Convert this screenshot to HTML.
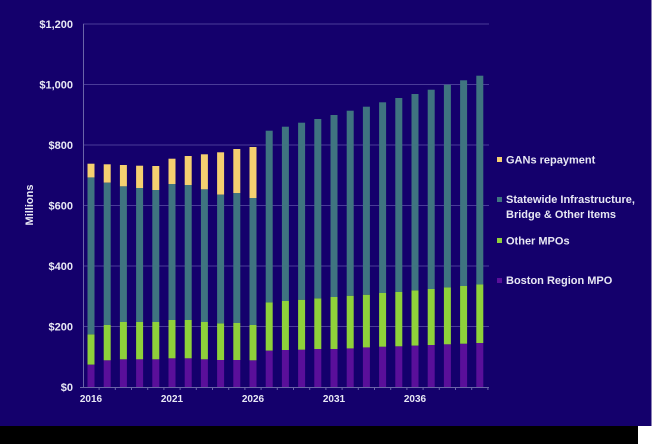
<!DOCTYPE html>
<html><head><meta charset="utf-8"><style>
html,body{margin:0;padding:0;background:#fff;}
svg{display:block;}
text{font-family:"Liberation Sans",sans-serif;font-weight:bold;fill:#e8e8f4;}
</style></head><body>
<svg width="655" height="444" viewBox="0 0 655 444" xmlns="http://www.w3.org/2000/svg">
<rect x="0" y="0" width="655" height="444" fill="#ffffff"/>
<rect x="0" y="0" width="651.5" height="426" fill="#14006c"/>
<rect x="0" y="426" width="638" height="18" fill="#000000"/>
<g stroke="#4a3c98" stroke-width="1">
<line x1="83" y1="24" x2="489" y2="24"/>
<line x1="83" y1="84.5" x2="489" y2="84.5"/>
<line x1="83" y1="145" x2="489" y2="145"/>
<line x1="83" y1="205.5" x2="489" y2="205.5"/>
<line x1="83" y1="266" x2="489" y2="266"/>
<line x1="83" y1="326.5" x2="489" y2="326.5"/>
</g>
<g stroke="#6a64a8" stroke-width="1">
<line x1="83.5" y1="24" x2="83.5" y2="387"/>
<line x1="80" y1="387.5" x2="489" y2="387.5"/>
</g>
<g id="bars"></g>
<g font-size="11" text-anchor="end">
<text x="73" y="28">$1,200</text>
<text x="73" y="88.5">$1,000</text>
<text x="73" y="149">$800</text>
<text x="73" y="209.5">$600</text>
<text x="73" y="270">$400</text>
<text x="73" y="330.5">$200</text>
<text x="73" y="391">$0</text>
</g>
<text x="0" y="0" font-size="11" text-anchor="middle" transform="translate(33,205) rotate(-90)">Millions</text>
<g font-size="10" text-anchor="middle">
<text x="91" y="402">2016</text>
<text x="172" y="402">2021</text>
<text x="253" y="402">2026</text>
<text x="334" y="402">2031</text>
<text x="415" y="402">2036</text>
</g>
<g font-size="11">
<rect x="497" y="157" width="5" height="5" fill="#f5d070"/>
<text x="506" y="163.5">GANs repayment</text>
<rect x="497" y="197" width="5" height="5" fill="#3f7480"/>
<text x="506" y="203">Statewide Infrastructure,</text>
<text x="506" y="218">Bridge &amp; Other Items</text>
<rect x="497" y="238" width="5" height="5" fill="#8fd13a"/>
<text x="506" y="244.5">Other MPOs</text>
<rect x="497" y="278" width="5" height="5" fill="#5a0f9a"/>
<text x="506" y="284">Boston Region MPO</text>
</g>
</svg>
<script>
var d=[[1094,1003,532,491],[1081,975,548,493],[1078,966,559,495],[1078,966,564,497],[1078,966,570,498],[1075,960,552,476],[1075,960,555,468],[1078,966,568,463],[1080,970,584,457],[1080,969,579,447],[1081,975,594,441],[1052,907,392],[1050,903,380],[1049,899,368],[1047,895,357],[1047,891,345],[1045,887,332],[1042,884,320],[1040,879,307],[1039,876,294],[1037,871,282],[1035,867,269],[1033,862,254],[1031,858,241],[1029,853,227]];
var cols=["#5a0f9a","#8fd13a","#3f7480","#f5d070"];
var g=document.getElementById("bars"),ns="http://www.w3.org/2000/svg",s="";
for(var i=0;i<d.length;i++){var x=91+i*16.2-3.5,prev=387;
for(var j=0;j<d[i].length;j++){var t=d[i][j]/3;s+='<rect x="'+x.toFixed(1)+'" y="'+t.toFixed(1)+'" width="7" height="'+(prev-t).toFixed(1)+'" fill="'+cols[j]+'"/>';prev=t;}
s+='<line x1="'+(x+3.5+8.1).toFixed(1)+'" y1="387" x2="'+(x+3.5+8.1).toFixed(1)+'" y2="390" stroke="#6a64a8"/>';}
g.innerHTML=s;
</script>
</body></html>
